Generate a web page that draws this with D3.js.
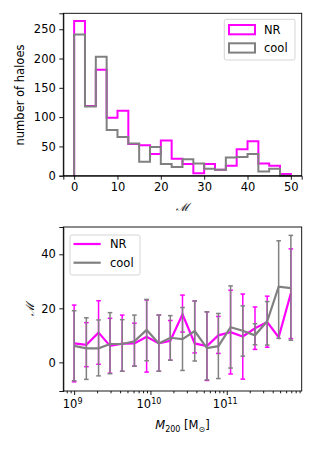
<!DOCTYPE html>
<html>
<head>
<meta charset="utf-8" />
<script src="https://cdn.jsdelivr.net/npm/d3@7"></script>
<style>
  body { margin: 0; background: #fff; }
  svg text { font-family: 'DejaVu Sans', sans-serif; font-size: 11.5px; fill: #000; }
</style>
</head>
<body>
<div id="chart"></div>
<script>
// histogram: bin edges and counts
var binEdges = [0, 2.5, 5, 7.5, 10, 12.5, 15, 17.5, 20, 22.5, 25, 27.5, 30, 32.5, 35, 37.5, 40, 42.5, 45, 47.5, 50];
var histNR   = [264, 119, 181, 99, 111, 54, 52, 37, 60, 29, 20, 4, 20, 10, 17, 45, 59, 21, 17, 3];
var histCool = [241, 118, 203, 78, 66, 55, 24, 49, 20, 15, 28, 21, 12, 10, 31, 32, 37, 7, 12, 0];
var histXTicks = [0, 10, 20, 30, 40, 50];
var histYTicks = [0, 50, 100, 150, 200, 250];

// binned M vs M200, log10 of halo mass
var logMass = [9.00, 9.16, 9.32, 9.47, 9.63, 9.79, 9.95, 10.11, 10.26, 10.42, 10.58, 10.74, 10.89, 11.05, 11.21, 11.37, 11.53, 11.68, 11.84];
var nrMid  = [7.0, 6.5, 11.0, 6.1, 6.9, 7.0, 9.5, 7.0, 8.0, 17.8, 7.0, 6.0, 10.0, 11.2, 9.6, 12.6, 14.9, 9.3, 25.6];
var nrLo   = [-7.2, -1.6, -0.7, -4.0, -3.3, -1.4, -3.6, -3.3, 0.8, 11.2, 3.5, -6.7, 3.3, -4.3, -6.2, 4.8, 5.6, null, 8.8];
var nrHi   = [21.2, 14.7, 22.8, 16.3, 17.5, 14.5, 23.1, 17.5, 15.5, 24.9, 22.7, 18.7, 17.0, 26.7, 25.3, 20.5, 24.5, null, 42.0];
var coolMid = [6.1, 5.2, 5.2, 6.8, 6.8, 7.8, 12.0, 7.0, 9.1, 8.6, 11.6, 5.3, 6.0, 13.0, 11.7, 10.0, 15.2, 28.0, 27.5];
var coolLo  = [-6.8, -6.3, -5.0, -4.2, -3.3, -1.4, 0.6, -3.3, 0.8, -3.0, 0.5, -6.5, -6.0, -2.1, 2.3, 6.5, 6.4, 8.9, 8.2];
var coolHi  = [19.1, 16.5, 15.7, 18.4, 15.8, 17.5, 23.3, 17.5, 17.3, 20.3, 22.7, 18.7, 18.1, 28.3, 20.9, 14.3, 22.5, 45.0, 47.0];
var massTicks = [9, 10, 11];
var mYTicks = [0, 20, 40];

var MAG = "#ff00ff", GREY = "#808080";

var svg = d3.select("#chart").append("svg")
    .attr("width", 315).attr("height", 450);

var left = 63.3, right = 301.7;

// ---------- top panel ----------
var top1 = 13.3, bot1 = 175.7;
var x1 = d3.scaleLinear().domain([-2.5, 52.5]).range([left, right]);
var y1 = d3.scaleLinear().domain([0, 277.2]).range([bot1, top1]);

var g1 = svg.append("g");

function stepPath(counts) {
    var p = d3.path();
    p.moveTo(x1(binEdges[0]), y1(0));
    counts.forEach(function (c, i) {
        p.lineTo(x1(binEdges[i]), y1(c));
        p.lineTo(x1(binEdges[i + 1]), y1(c));
    });
    p.lineTo(x1(binEdges[binEdges.length - 1]), y1(0));
    return p.toString();
}

g1.append("path").attr("d", stepPath(histNR))
    .attr("fill", "none").attr("stroke", MAG).attr("stroke-width", 2);
g1.append("path").attr("d", stepPath(histCool))
    .attr("fill", "none").attr("stroke", GREY).attr("stroke-width", 2);

var ax1 = d3.axisBottom(x1).tickValues(histXTicks).tickSize(4).tickPadding(3.5);
g1.append("g").attr("transform", "translate(0," + bot1 + ")").call(ax1);
var ay1 = d3.axisLeft(y1).tickValues(histYTicks).tickSize(4).tickPadding(3.5);
g1.append("g").attr("transform", "translate(" + left + ",0)").call(ay1);

g1.append("rect").attr("x", left).attr("y", top1)
    .attr("width", right - left).attr("height", bot1 - top1)
    .attr("fill", "none").attr("stroke", "#000").attr("stroke-width", 0.9);

g1.append("text").attr("transform", "translate(20,95) rotate(-90)")
    .attr("text-anchor", "middle").attr("dy", "0.35em").text("number of haloes");
g1.append("text").attr("x", (left + right) / 2).attr("y", 211)
    .attr("text-anchor", "middle").style("font-style", "italic")
    .style("font-family", "'DejaVu Serif', serif").text("\u2133");

// legend (top)
var lg1 = g1.append("g");
lg1.append("rect").attr("x", 224.3).attr("y", 19.3).attr("width", 70.7).attr("height", 40.7)
    .attr("rx", 2).attr("fill", "#fff").attr("fill-opacity", 0.8)
    .attr("stroke", "#d0d0d0").attr("stroke-width", 0.9);
[["NR", MAG, 25], ["cool", GREY, 43.3]].forEach(function (d) {
    lg1.append("rect").attr("x", 229).attr("y", d[2]).attr("width", 26).attr("height", 9.3)
        .attr("fill", "none").attr("stroke", d[1]).attr("stroke-width", 2);
    lg1.append("text").attr("x", 264).attr("y", d[2] + 4.7).attr("dy", "0.35em").text(d[0]);
});

// ---------- bottom panel ----------
var top2 = 227, bot2 = 391;
var x2 = d3.scaleLog().domain([Math.pow(10, 8.858), Math.pow(10, 11.982)]).range([left, right]);
var y2 = d3.scaleLinear().domain([-10.6, 50.1]).range([bot2, top2]);
var g2 = svg.append("g");

function series(mid, lo, hi, color) {
    var gs = g2.append("g");
    logMass.forEach(function (lm, i) {
        if (lo[i] === null) return;
        var cx = x2(Math.pow(10, lm));
        gs.append("line").attr("x1", cx).attr("x2", cx)
            .attr("y1", y2(lo[i])).attr("y2", y2(hi[i]))
            .attr("stroke", color).attr("stroke-width", 1.5);
        [lo[i], hi[i]].forEach(function (v) {
            gs.append("line").attr("x1", cx - 2.3).attr("x2", cx + 2.3)
                .attr("y1", y2(v)).attr("y2", y2(v))
                .attr("stroke", color).attr("stroke-width", 1.5);
        });
    });
    var line = d3.line()
        .x(function (d, i) { return x2(Math.pow(10, logMass[i])); })
        .y(function (d) { return y2(d); });
    gs.append("path").datum(mid).attr("d", line)
        .attr("fill", "none").attr("stroke", color).attr("stroke-width", 2.2);
}
series(nrMid, nrLo, nrHi, MAG);
series(coolMid, coolLo, coolHi, GREY);

// x axis with minor ticks
var majors = massTicks.map(function (e) { return Math.pow(10, e); });
var minors = [];
[8, 9, 10, 11].forEach(function (e) {
    for (var k = 2; k <= 9; k++) {
        var v = k * Math.pow(10, e);
        if (v > x2.domain()[0] && v < x2.domain()[1]) minors.push(v);
    }
});
var gx2 = g2.append("g").attr("transform", "translate(0," + bot2 + ")");
gx2.call(d3.axisBottom(x2).tickValues(minors).tickSize(2.3).tickFormat(""));
gx2.select(".domain").remove();
var gxm = g2.append("g").attr("transform", "translate(0," + bot2 + ")")
    .call(d3.axisBottom(x2).tickValues(majors).tickSize(4).tickFormat(""));
gxm.select(".domain").remove();
majors.forEach(function (v, i) {
    var t = g2.append("text").attr("x", x2(v) - 1.5).attr("y", bot2 + 17)
        .attr("text-anchor", "middle");
    t.append("tspan").text("10");
    t.append("tspan").attr("dy", -4.5).style("font-size", "8px").text(massTicks[i]);
});

var ay2 = d3.axisLeft(y2).tickValues(mYTicks).tickSize(4).tickPadding(3.5);
g2.append("g").attr("transform", "translate(" + left + ",0)").call(ay2);

g2.append("rect").attr("x", left).attr("y", top2)
    .attr("width", right - left).attr("height", bot2 - top2)
    .attr("fill", "none").attr("stroke", "#000").attr("stroke-width", 0.9);

g2.append("text").attr("transform", "translate(30,309) rotate(-90)")
    .attr("text-anchor", "middle").attr("dy", "0.35em").style("font-style", "italic")
    .style("font-family", "'DejaVu Serif', serif").text("\u2133");

var xl = g2.append("text").attr("x", (left + right) / 2).attr("y", 429)
    .attr("text-anchor", "middle");
xl.append("tspan").style("font-style", "italic").text("M");
xl.append("tspan").attr("dy", 3).style("font-size", "8px").text("200");
xl.append("tspan").attr("dy", -3).text(" [M");
xl.append("tspan").attr("dy", 3).style("font-size", "8px").text("\u2299");
xl.append("tspan").attr("dy", -3).text("]");

// legend (bottom)
var lg2 = g2.append("g");
lg2.append("rect").attr("x", 70).attr("y", 235).attr("width", 70).attr("height", 40)
    .attr("rx", 2).attr("fill", "#fff").attr("fill-opacity", 0.8)
    .attr("stroke", "#d0d0d0").attr("stroke-width", 0.9);
[["NR", MAG, 244], ["cool", GREY, 262.7]].forEach(function (d) {
    lg2.append("line").attr("x1", 73.5).attr("x2", 100.7).attr("y1", d[2]).attr("y2", d[2])
        .attr("stroke", d[1]).attr("stroke-width", 2.2);
    lg2.append("text").attr("x", 110).attr("y", d[2]).attr("dy", "0.35em").text(d[0]);
});

svg.selectAll(".tick text").style("font-size", "11.5px").style("font-family", "'DejaVu Sans', sans-serif");
svg.selectAll(".tick line").attr("stroke-width", 0.9);
svg.selectAll(".domain").attr("stroke-width", 0.9);
</script>
</body>
</html>
